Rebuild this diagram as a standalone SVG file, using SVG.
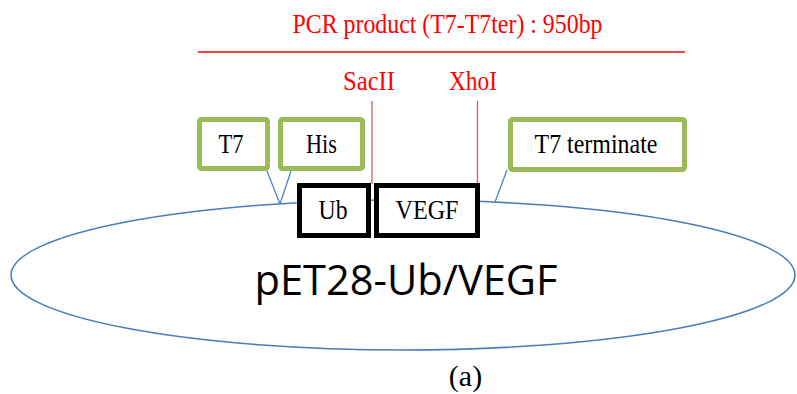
<svg xmlns="http://www.w3.org/2000/svg" width="797" height="394" viewBox="0 0 797 394">
<style>
.serif{font-family:"Liberation Serif","Times New Roman",serif;font-size:27px;text-anchor:middle}
.red{fill:#ff0000}
.lbl{fill:#000}
.gbox{fill:#fff;stroke:#9bbb59;stroke-width:5}
.kbox{fill:#fff;stroke:#000;stroke-width:5}
.conn{stroke:#4f81bd;stroke-width:1.3;fill:none}
.cut{stroke:#d9595b;stroke-width:1.3}
</style>
<rect width="797" height="394" fill="#fff"/>
<g id="plasmid">
<ellipse cx="403" cy="275" rx="392" ry="75" fill="none" stroke="#4a7ebb" stroke-width="1.6"/>
<text x="406" y="295" font-family="'Open Sans','Noto Sans',sans-serif" font-size="42" text-anchor="middle" textLength="303" lengthAdjust="spacingAndGlyphs" fill="#000">pET28-Ub/VEGF</text>
</g>
<g id="pcr">
<text class="serif red" x="447.5" y="33" textLength="310" lengthAdjust="spacingAndGlyphs">PCR product (T7-T7ter) : 950bp</text>
<line x1="198" y1="52" x2="685" y2="52" stroke="#ff0000" stroke-width="1.6"/>
</g>
<g id="connectors">
<line class="conn" x1="267" y1="171" x2="280" y2="204"/>
<line class="conn" x1="291" y1="171" x2="280" y2="204"/>
<line class="conn" x1="507" y1="170" x2="495" y2="202"/>
<line class="cut" x1="372" y1="101" x2="372" y2="184"/>
<line class="cut" x1="477.5" y1="101" x2="477.5" y2="184"/>
</g>
<g id="sacII">
<text class="serif red" x="369" y="90" textLength="52" lengthAdjust="spacingAndGlyphs">SacII</text>
</g>
<g id="xhoI">
<text class="serif red" x="473" y="90" textLength="48" lengthAdjust="spacingAndGlyphs">XhoI</text>
</g>
<g id="t7">
<rect class="gbox" x="199.5" y="119.5" width="68" height="49" rx="2"/>
<text class="serif lbl" x="231" y="153" textLength="25" lengthAdjust="spacingAndGlyphs">T7</text>
</g>
<g id="his">
<rect class="gbox" x="280.5" y="119.5" width="82" height="49" rx="2"/>
<text class="serif lbl" x="321.5" y="153" textLength="31" lengthAdjust="spacingAndGlyphs">His</text>
</g>
<g id="t7term">
<rect class="gbox" x="510.5" y="119.5" width="174" height="50" rx="2"/>
<text class="serif lbl" x="596" y="153" textLength="123" lengthAdjust="spacingAndGlyphs">T7 terminate</text>
</g>
<g id="ub">
<rect class="kbox" x="299.5" y="185.5" width="69" height="50"/>
<text class="serif lbl" x="333" y="219" textLength="29" lengthAdjust="spacingAndGlyphs">Ub</text>
</g>
<g id="vegf">
<rect class="kbox" x="376.5" y="185.5" width="101" height="50"/>
<text class="serif lbl" x="427" y="219" textLength="63" lengthAdjust="spacingAndGlyphs">VEGF</text>
</g>
<g id="caption">
<text class="serif lbl" x="465.5" y="386" style="font-size:30px">(a)</text>
</g>
</svg>
